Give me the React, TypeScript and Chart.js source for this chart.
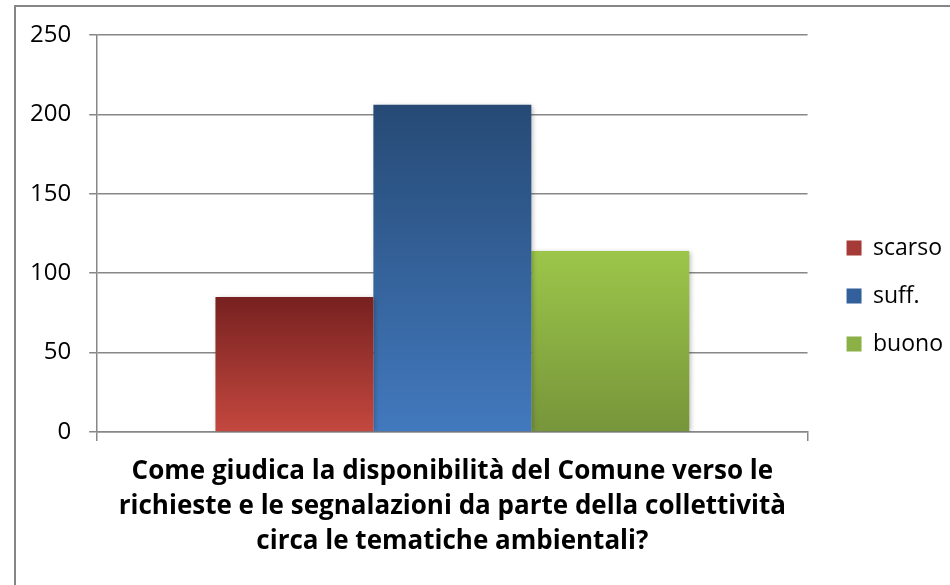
import React, { useEffect, useRef } from "react";
import { Chart, registerables } from "chart.js";

Chart.register(...registerables);

const categoryLines: string[] = [
  "Come giudica la disponibilità del Comune verso le",
  "richieste e le segnalazioni da parte della collettività",
  "circa le tematiche ambientali?",
];
const seriesNames: string[] = ["scarso", "suff.", "buono"];
const scarso: number[] = [85];
const suff: number[] = [206];
const buono: number[] = [114];
const yTicks: number[] = [0, 50, 100, 150, 200, 250];

const FONT = "'Open Sans', 'Noto Sans', sans-serif";
const GRID = "#878787";

// [top colour, bottom colour, legend colour]
const palettes: string[][] = [
  ["#772120", "#c4483f", "#a53a36"],
  ["#264a75", "#4279be", "#33609a"],
  ["#9cc64a", "#77953a", "#8bb045"],
];

function gradientFor(idx: number) {
  return (ctx: any) => {
    const chart = ctx.chart;
    const area = chart.chartArea;
    const [top, bottom, mid] = palettes[idx];
    if (!area || ctx.raw === undefined) return mid;
    const yScale = chart.scales.y;
    const yTop = yScale.getPixelForValue(ctx.raw);
    const yBot = yScale.getPixelForValue(0);
    if (!isFinite(yTop) || !isFinite(yBot) || yTop === yBot) return mid;
    const g = chart.ctx.createLinearGradient(0, yTop, 0, yBot);
    g.addColorStop(0, top);
    g.addColorStop(1, bottom);
    return g;
  };
}

const shadowPlugin = {
  id: "barShadow",
  beforeDatasetsDraw(chart: any) {
    const c = chart.ctx;
    c.save();
    c.shadowColor = "rgba(0,0,0,0.28)";
    c.shadowBlur = 5;
    c.shadowOffsetX = 2;
    c.shadowOffsetY = 1;
  },
  afterDatasetsDraw(chart: any) {
    chart.ctx.restore();
  },
};

const legendShift = {
  id: "legendShift",
  afterLayout(chart: any) {
    const lg = chart.legend;
    if (lg) {
      lg.left += 14;
      lg.right += 14;
      lg.top -= 8;
      lg.bottom -= 8;
    }
  },
};

export default function App() {
  const ref = useRef<HTMLCanvasElement | null>(null);

  useEffect(() => {
    if (!ref.current) return;
    const series = [scarso, suff, buono];
    const chart = new Chart(ref.current, {
      type: "bar",
      data: {
        labels: [categoryLines],
        datasets: seriesNames.map((name, i) => ({
          label: name,
          data: series[i],
          backgroundColor: gradientFor(i),
          borderWidth: 0,
          barPercentage: 1,
          categoryPercentage: 0.667,
        })),
      },
      options: {
        responsive: false,
        animation: false,
        layout: { padding: { left: 12, top: 35, right: 11, bottom: 12 } },
        plugins: {
          tooltip: { enabled: false },
          title: { display: false },
          legend: {
            position: "right",
            labels: {
              boxWidth: 15,
              boxHeight: 15,
              padding: 25,
              color: "#000",
              font: { family: FONT, size: 23 },
              generateLabels: () =>
                seriesNames.map((name, i) => ({
                  text: name,
                  fillStyle: palettes[i][2],
                  strokeStyle: palettes[i][2],
                  lineWidth: 0,
                  hidden: false,
                  datasetIndex: i,
                })),
            },
          },
        },
        scales: {
          x: {
            offset: true,
            grid: {
              offset: true,
              drawOnChartArea: false,
              drawTicks: true,
              tickLength: 9,
              color: GRID,
              lineWidth: 1.5,
            },
            border: { display: true, color: GRID, width: 1.5 },
            ticks: {
              color: "#000",
              padding: 13.5,
              maxRotation: 0,
              autoSkip: false,
              font: { family: FONT, size: 26, weight: "bold", lineHeight: 35 / 26 },
            },
          },
          y: {
            min: 0,
            max: 250,
            afterBuildTicks: (scale: any) => {
              scale.ticks = yTicks.map((v) => ({ value: v }));
            },
            grid: {
              color: GRID,
              lineWidth: 1.5,
              tickLength: 8,
              drawTicks: true,
            },
            border: { display: true, color: GRID, width: 1.5 },
            ticks: {
              color: "#000",
              padding: 18,
              font: { family: FONT, size: 24 },
            },
          },
        },
      },
      plugins: [shadowPlugin, legendShift],
    });
    return () => chart.destroy();
  }, []);

  return (
    <div
      style={{
        position: "fixed",
        left: 0,
        top: 0,
        width: 950,
        height: 585,
        background: "#fff",
        overflow: "hidden",
      }}
    >
      <div
        style={{
          position: "absolute",
          left: 14,
          top: 5,
          width: 1000,
          height: 700,
          border: "2px solid #868686",
          boxSizing: "border-box",
        }}
      />
      <canvas
        ref={ref}
        width={950}
        height={585}
        style={{ position: "absolute", left: 0, top: 0, width: 950, height: 585 }}
      />
    </div>
  );
}
